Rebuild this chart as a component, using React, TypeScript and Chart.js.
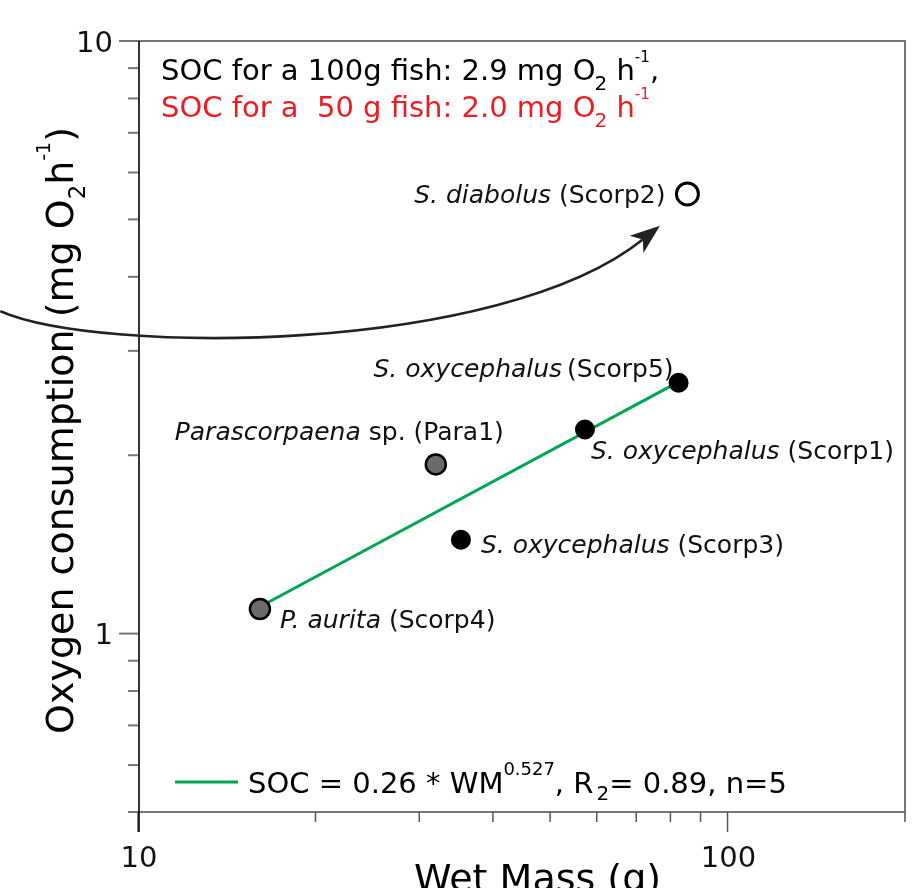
import React, { useEffect, useRef } from 'react';
import { Chart, registerables } from 'chart.js';

Chart.register(...registerables);

const FONT = '"DejaVu Sans", Verdana, sans-serif';

// ---- data ----
const sampleIds = ['Scorp4', 'Para1', 'Scorp3', 'Scorp1', 'Scorp5', 'Scorp2'];
const speciesNames = ['P. aurita', 'Parascorpaena', 'S. oxycephalus', 'S. oxycephalus', 'S. oxycephalus', 'S. diabolus'];
const speciesSuffix = ['', ' sp.', '', '', '', ''];
const wetMassG = [16.1, 32.0, 35.3, 57.3, 82.6, 85.5];
const oxygenMg = [1.10, 1.93, 1.44, 2.21, 2.65, 5.52];
const markerGroup = ['gray', 'gray', 'black', 'black', 'black', 'open'];

const fitWetMass = [16.1, 82.6];
const fitOxygen = [1.11, 2.66];

const xMajorTicks = [10, 100];
const xMinorTicks = [20, 30, 40, 50, 60, 70, 80, 90, 200];
const yMajorTicks = [1, 10];
const yMinorTicks = [0.5, 0.6, 0.7, 0.8, 0.9, 2, 3, 4, 5, 6, 7, 8, 9];

const arrowX = [5.84, 8.62, 40.96, 76.8];
const arrowY = [3.5, 2.955, 2.955, 4.88];

// ---- layout/style only (pixel offsets of point labels) ----
const labelOffsets: [number, number, 'left' | 'right'][] = [
  [20, 19, 'left'],
  [68, -24, 'right'],
  [20, 13, 'left'],
  [6, 29, 'left'],
  [-5, -6, 'right'],
  [-22, 9, 'right'],
];

type Seg = { t: string; k?: 'n' | 'i' | 'sub' | 'sup'; sf?: number; dy?: number; gap?: number };

function drawRich(ctx: CanvasRenderingContext2D, segs: Seg[], x: number, y: number, size: number, color: string, align: 'left' | 'right' | 'center') {
  const parts = segs.map((s) => {
    const kind = s.k || 'n';
    let fs = size;
    let dy = 0;
    if (kind === 'sub') { fs = size * (s.sf ?? 0.65); dy = size * (s.dy ?? 0.32); }
    if (kind === 'sup') { fs = size * (s.sf ?? 0.5); dy = -size * (s.dy ?? 0.6); }
    const font = `${kind === 'i' ? 'italic ' : ''}${fs}px ${FONT}`;
    ctx.font = font;
    const w = ctx.measureText(s.t).width + (s.gap || 0);
    return { s, font, dy, w };
  });
  const total = parts.reduce((a, p) => a + p.w, 0);
  let cx = align === 'left' ? x : align === 'right' ? x - total : x - total / 2;
  ctx.textAlign = 'left';
  ctx.textBaseline = 'alphabetic';
  ctx.fillStyle = color;
  for (const p of parts) {
    ctx.font = p.font;
    ctx.fillText(p.s.t, cx + (p.s.gap || 0), y + p.dy);
    cx += p.w;
  }
}

const decorPlugin = {
  id: 'decor',
  beforeDatasetsDraw(chart: any) {
    const { ctx, chartArea: a, scales } = chart;
    const xs = scales.x;
    const ys = scales.y;
    ctx.save();
    ctx.lineCap = 'butt';
    // gray frame (top, right, bottom)
    ctx.strokeStyle = '#777';
    ctx.lineWidth = 2;
    ctx.beginPath();
    ctx.moveTo(a.left - 19, a.top);
    ctx.lineTo(a.right, a.top);
    ctx.lineTo(a.right, a.bottom);
    ctx.lineTo(a.left - 10, a.bottom);
    ctx.stroke();
    // y ticks
    for (const v of yMajorTicks) {
      const py = ys.getPixelForValue(v);
      ctx.beginPath(); ctx.moveTo(a.left - 19, py); ctx.lineTo(a.left, py); ctx.stroke();
    }
    for (const v of yMinorTicks) {
      const py = ys.getPixelForValue(v);
      ctx.beginPath(); ctx.moveTo(a.left - 10, py); ctx.lineTo(a.left, py); ctx.stroke();
    }
    // x ticks
    ctx.strokeStyle = '#555';
    ctx.lineWidth = 1.5;
    for (const v of xMajorTicks) {
      const px = xs.getPixelForValue(v);
      ctx.beginPath(); ctx.moveTo(px, a.bottom); ctx.lineTo(px, a.bottom + 20); ctx.stroke();
    }
    for (const v of xMinorTicks) {
      const px = xs.getPixelForValue(v);
      ctx.beginPath(); ctx.moveTo(px, a.bottom); ctx.lineTo(px, a.bottom + 10); ctx.stroke();
    }
    // left axis (black)
    ctx.strokeStyle = '#000';
    ctx.lineWidth = 1.6;
    ctx.beginPath();
    ctx.moveTo(a.left + 1, a.top);
    ctx.lineTo(a.left + 1, a.bottom + 20);
    ctx.stroke();

    // tick labels
    ctx.fillStyle = '#111';
    ctx.font = `29px ${FONT}`;
    ctx.textAlign = 'right';
    ctx.textBaseline = 'middle';
    for (const v of yMajorTicks) {
      ctx.fillText(String(v), a.left - 25, ys.getPixelForValue(v) + 3);
    }
    ctx.textAlign = 'center';
    ctx.textBaseline = 'alphabetic';
    for (const v of xMajorTicks) {
      ctx.fillText(String(v), xs.getPixelForValue(v) + 1, a.bottom + 55);
    }

    // axis titles
    ctx.save();
    ctx.translate(73, (a.top + a.bottom) / 2 + 4);
    ctx.rotate(-Math.PI / 2);
    drawRich(ctx, [
      { t: 'Oxygen consumption (mg O' },
      { t: '2', k: 'sub', sf: 0.6, dy: 0.32 },
      { t: 'h' },
      { t: '-1', k: 'sup', sf: 0.5, dy: 0.6 },
      { t: ')' },
    ], 0, 0, 38, '#000', 'center');
    ctx.restore();
    drawRich(ctx, [{ t: 'Wet Mass (g)' }], (a.left + a.right) / 2 + 16, a.bottom + 79, 38, '#000', 'center');

    // curved arrow
    const P = arrowX.map((x, i) => [xs.getPixelForValue(x), ys.getPixelForValue(arrowY[i])]);
    const tip = P[3];
    const dx = P[3][0] - P[2][0];
    const dy = P[3][1] - P[2][1];
    const len = Math.hypot(dx, dy);
    const ux = dx / len;
    const uy = dy / len;
    const headLen = 30;
    const headW = 11;
    const base = [tip[0] - ux * headLen, tip[1] - uy * headLen];
    ctx.strokeStyle = '#222';
    ctx.lineWidth = 2.6;
    ctx.beginPath();
    ctx.moveTo(P[0][0], P[0][1]);
    ctx.bezierCurveTo(P[1][0], P[1][1], P[2][0], P[2][1], base[0] + ux * 8, base[1] + uy * 8);
    ctx.stroke();
    ctx.fillStyle = '#222';
    ctx.beginPath();
    ctx.moveTo(tip[0], tip[1]);
    ctx.lineTo(base[0] - uy * headW, base[1] + ux * headW);
    ctx.lineTo(base[0] + ux * 8, base[1] + uy * 8);
    ctx.lineTo(base[0] + uy * headW, base[1] - ux * headW);
    ctx.closePath();
    ctx.fill();
    ctx.restore();
  },
  afterDraw(chart: any) {
    const { ctx, chartArea: a, scales } = chart;
    const xs = scales.x;
    const ys = scales.y;
    ctx.save();
    // point labels
    sampleIds.forEach((id, i) => {
      const px = xs.getPixelForValue(wetMassG[i]);
      const py = ys.getPixelForValue(oxygenMg[i]);
      const [ox, oy, al] = labelOffsets[i];
      const segs: Seg[] = [{ t: speciesNames[i], k: 'i' }];
      if (speciesSuffix[i]) segs.push({ t: speciesSuffix[i] });
      if (id === 'Scorp5') segs.push({ t: `(${id})`, gap: 5 });
      else segs.push({ t: ` (${id})` });
      drawRich(ctx, segs, px + ox, py + oy, 25, '#111', al);
    });
    // top annotations
    drawRich(ctx, [
      { t: 'SOC for a 100g fish: 2.9 mg O' },
      { t: '2', k: 'sub', sf: 0.69, dy: 0.34, gap: -1 },
      { t: ' h' },
      { t: '-1', k: 'sup', sf: 0.52, dy: 0.62 },
      { t: ',' },
    ], a.left + 23, a.top + 39, 29, '#000', 'left');
    drawRich(ctx, [
      { t: 'SOC for a  50 g fish: 2.0 mg O' },
      { t: '2', k: 'sub', sf: 0.69, dy: 0.34, gap: -1 },
      { t: ' h' },
      { t: '-1', k: 'sup', sf: 0.52, dy: 0.62 },
    ], a.left + 23, a.top + 76, 29, '#ed1c24', 'left');
    // legend
    const ly = a.bottom - 30;
    ctx.strokeStyle = '#00a651';
    ctx.lineWidth = 3;
    ctx.beginPath();
    ctx.moveTo(a.left + 37, ly);
    ctx.lineTo(a.left + 100, ly);
    ctx.stroke();
    drawRich(ctx, [
      { t: 'SOC = 0.26 * WM' },
      { t: '0.527', k: 'sup', sf: 0.62, dy: 0.62 },
      { t: ', R' },
      { t: '2', k: 'sub', sf: 0.69, dy: 0.24, gap: 3 },
      { t: '= 0.89, n=5' },
    ], a.left + 110, ly + 11, 29, '#000', 'left');
    ctx.restore();
  },
};

function pointsFor(group: string) {
  return sampleIds
    .map((_, i) => i)
    .filter((i) => markerGroup[i] === group)
    .map((i) => ({ x: wetMassG[i], y: oxygenMg[i] }));
}

export default function App() {
  const ref = useRef<HTMLCanvasElement>(null);
  useEffect(() => {
    if (!ref.current) return;
    const chart = new Chart(ref.current, {
      type: 'scatter',
      data: {
        datasets: [
          {
            label: 'S. diabolus',
            data: pointsFor('open'),
            pointRadius: 11,
            pointBorderWidth: 3,
            pointBackgroundColor: '#ffffff',
            pointBorderColor: '#000000',
            order: 0,
          },
          {
            label: 'S. oxycephalus',
            data: pointsFor('black'),
            pointRadius: 9,
            pointBorderWidth: 2,
            pointBackgroundColor: '#000000',
            pointBorderColor: '#000000',
            order: 0,
          },
          {
            label: 'other',
            data: pointsFor('gray'),
            pointRadius: 10,
            pointBorderWidth: 2.5,
            pointBackgroundColor: '#6b6b6b',
            pointBorderColor: '#000000',
            order: 0,
          },
          {
            type: 'line',
            label: 'fit',
            data: fitWetMass.map((x, i) => ({ x, y: fitOxygen[i] })),
            borderColor: '#00a651',
            borderWidth: 3,
            pointRadius: 0,
            showLine: true,
            fill: false,
            order: 10,
          } as any,
        ],
      },
      options: {
        responsive: false,
        animation: false,
        events: [],
        layout: { padding: { left: 138, top: 41, right: 12, bottom: 76 } },
        scales: {
          x: { type: 'logarithmic', min: 10, max: 200, display: false },
          y: { type: 'logarithmic', min: 0.5, max: 10, display: false },
        },
        plugins: {
          legend: { display: false },
          tooltip: { enabled: false },
        },
      },
      plugins: [decorPlugin],
    });
    return () => chart.destroy();
  }, []);
  return (
    <div style={{ position: 'absolute', left: 0, top: 0, width: 919, height: 888, background: '#fff' }}>
      <canvas ref={ref} width={919} height={888} style={{ display: 'block' }} />
    </div>
  );
}
